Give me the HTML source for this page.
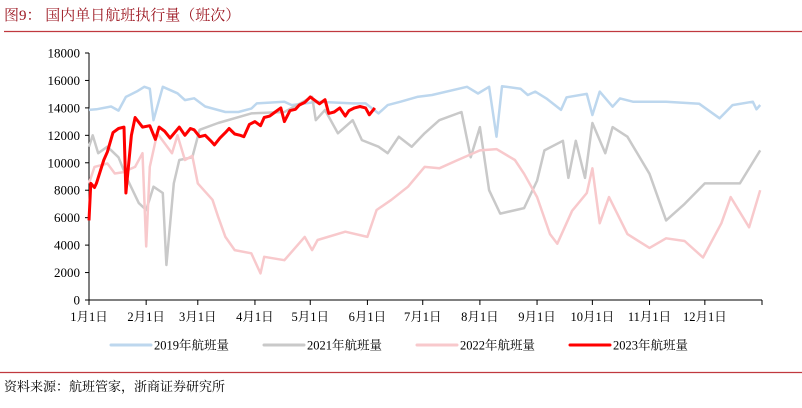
<!DOCTYPE html>
<html><head><meta charset="utf-8"><style>
html,body{margin:0;padding:0;background:#fff}
body{width:802px;height:403px;overflow:hidden;position:relative;font-family:"Liberation Serif","Noto Serif CJK SC","Noto Sans CJK SC",serif}
</style></head><body>
<svg width="802" height="403" xmlns="http://www.w3.org/2000/svg">
<text x="4" y="20" font-size="15" fill="#9e1a24" font-family="Liberation Serif,Noto Serif CJK SC,serif">图9：  国内单日航班执行量（班次）</text>
<line x1="4" y1="31.5" x2="802" y2="31.5" stroke="#c0393f" stroke-width="1.2"/>
<g id="axes"></g>
<g id="series"></g>
<g id="legend" font-size="12" fill="#000"></g>
<line x1="0" y1="372.5" x2="802" y2="372.5" stroke="#c0393f" stroke-width="1.2"/>
<text x="4" y="391" font-size="13" fill="#000">资料来源：航班管家，浙商证券研究所</text>
</svg>
<script>
const yTicks=[0,2000,4000,6000,8000,10000,12000,14000,16000,18000];
const monthLabels=["1月1日","2月1日","3月1日","4月1日","5月1日","6月1日","7月1日","8月1日","9月1日","10月1日","11月1日","12月1日"];
const monthDays=[0,31,59,90,120,151,181,212,243,273,304,334,365];
const s2019Days=[0,4,12,16,20,26,30,33,35,40,48,52,57,63,74,81,88,91,106,110,124,143,150,157,162,169,178,186,205,211,217,221,224,234,238,242,248,256,259,270,273,277,284,288,295,313,331,342,349,360,362,364];
const s2019=[13850,13900,14100,13800,14800,15200,15540,15400,13100,15540,15060,14570,14700,14100,13700,13700,13950,14330,14450,14200,14450,14330,14330,13600,14200,14450,14800,14940,15540,15050,15540,11900,15580,15400,14940,15190,14690,13850,14770,15020,13480,15190,14090,14690,14450,14450,14300,13240,14200,14450,13900,14210];
const s2021Days=[0,2,5,10,16,21,27,31,35,40,42,46,49,56,60,70,88,106,121,123,128,135,143,148,157,162,168,175,182,190,202,207,212,217,223,236,243,247,257,260,264,269,273,280,284,292,304,313,323,334,343,353,364];
const s2021=[11170,12000,10700,11170,10400,8750,7060,6560,8260,7800,2550,8500,10200,10400,12400,12900,13600,13700,14800,13100,13850,12150,13100,11650,11170,10700,11900,11170,12150,13100,13700,10400,12600,8000,6300,6700,8700,10900,11600,8900,11600,8900,12900,10700,12600,11900,9200,5800,7000,8500,8500,8500,10900];
const s2022Days=[0,3,10,14,18,25,29,31,33,37,45,48,52,56,59,67,70,74,79,88,93,95,106,117,121,124,139,151,156,164,173,182,190,200,212,221,231,236,243,250,254,262,270,273,277,282,292,304,313,323,333,343,348,358,364];
const s2022=[8500,9700,9950,9220,9300,9700,10700,3900,9700,12150,10700,12000,10200,10500,8500,7300,6070,4600,3640,3400,1940,3150,2900,4600,3640,4370,4980,4600,6560,7300,8260,9700,9600,10200,10900,11000,10200,9200,7500,4800,4100,6500,7800,9600,5600,7500,4800,3800,4500,4300,3100,5600,7500,5300,8000];
const s2023Days=[0,1,3,4,8,10,13,16,19,20,23,25,29,33,36,38,41,44,49,52,55,57,60,63,66,68,71,74,76,79,82,84,87,90,93,95,98,101,104,106,109,112,114,117,120,125,128,130,133,136,139,141,144,147,150,152,155];
const s2023=[5800,8500,8200,8500,10200,10800,12200,12500,12600,7800,12000,13300,12600,12700,11700,12600,12300,11800,12600,12000,12500,12400,11900,12000,11600,11300,11800,12200,12500,12100,12000,11900,12800,13000,12700,13300,13400,13700,14000,13000,13800,13900,14200,14400,14800,14300,14600,13600,13700,14000,13400,13800,14000,14100,14000,13500,14000];
const X0=89,X1=762,Y0=300,Y1=53;
const xs=d=>X0+d*(X1-X0)/365;
const ys=v=>Y0-v*(Y0-Y1)/18000;
const NS="http://www.w3.org/2000/svg";
function mk(tag,attrs,parent){const e=document.createElementNS(NS,tag);for(const k in attrs)e.setAttribute(k,attrs[k]);parent.appendChild(e);return e;}
const axes=document.getElementById('axes');
let e=mk('line',{x1:X0,y1:Y1,x2:X0,y2:Y0,stroke:'#000','stroke-width':1},axes);


e=mk('line',{x1:X0,y1:Y0,x2:X1,y2:Y0,stroke:'#000','stroke-width':1},axes);


yTicks.forEach(v=>{
 const y=ys(v);
 mk('line',{x1:X0-4,y1:y,x2:X0,y2:y,stroke:'#000'},axes);
 const t=mk('text',{x:X0-9,y:y+4.5,'text-anchor':'end','font-size':13},axes);
 t.textContent=v;
 
 
});
monthDays.forEach((d,i)=>{
 const x=xs(d);
 mk('line',{x1:x,y1:Y0,x2:x,y2:Y0+5,stroke:'#000'},axes);
 if(i<monthLabels.length){
  const t=mk('text',{x:x,y:Y0+21,'text-anchor':'middle','font-size':12.5},axes);
  t.textContent=monthLabels[i];
  
  
 }
});
const ser=document.getElementById('series');
function line(days,vals,color,w,name){
 const p=vals.map((v,i)=>(i?'L':'M')+xs(days[i]).toFixed(1)+','+ys(v).toFixed(1)).join('');
 const el=mk('path',{d:p,fill:'none',stroke:color,'stroke-width':w,'stroke-linejoin':'round'},ser);
 
 
}
line(s2019Days,s2019,'#bdd7ee',2.5,'series-2019');
line(s2021Days,s2021,'#c9c9c9',2.5,'series-2021');
line(s2022Days,s2022,'#f8c9cc',2.5,'series-2022');
line(s2023Days,s2023,'#ff0000',3,'series-2023');
const leg=[["2019年航班量","#bdd7ee",111],["2021年航班量","#c9c9c9",264],["2022年航班量","#f8c9cc",417],["2023年航班量","#ff0000",570]];
const lg=document.getElementById('legend');
leg.forEach(l=>{
 const g=mk('g',{},lg);
 
 
 mk('line',{x1:l[2],y1:345,x2:l[2]+40,y2:345,stroke:l[1],'stroke-width':3,'stroke-linecap':'round'},g);
 const t=mk('text',{x:l[2]+43,y:349.5,'font-size':12.5},g);
 t.textContent=l[0];
});
</script>
</body></html>
